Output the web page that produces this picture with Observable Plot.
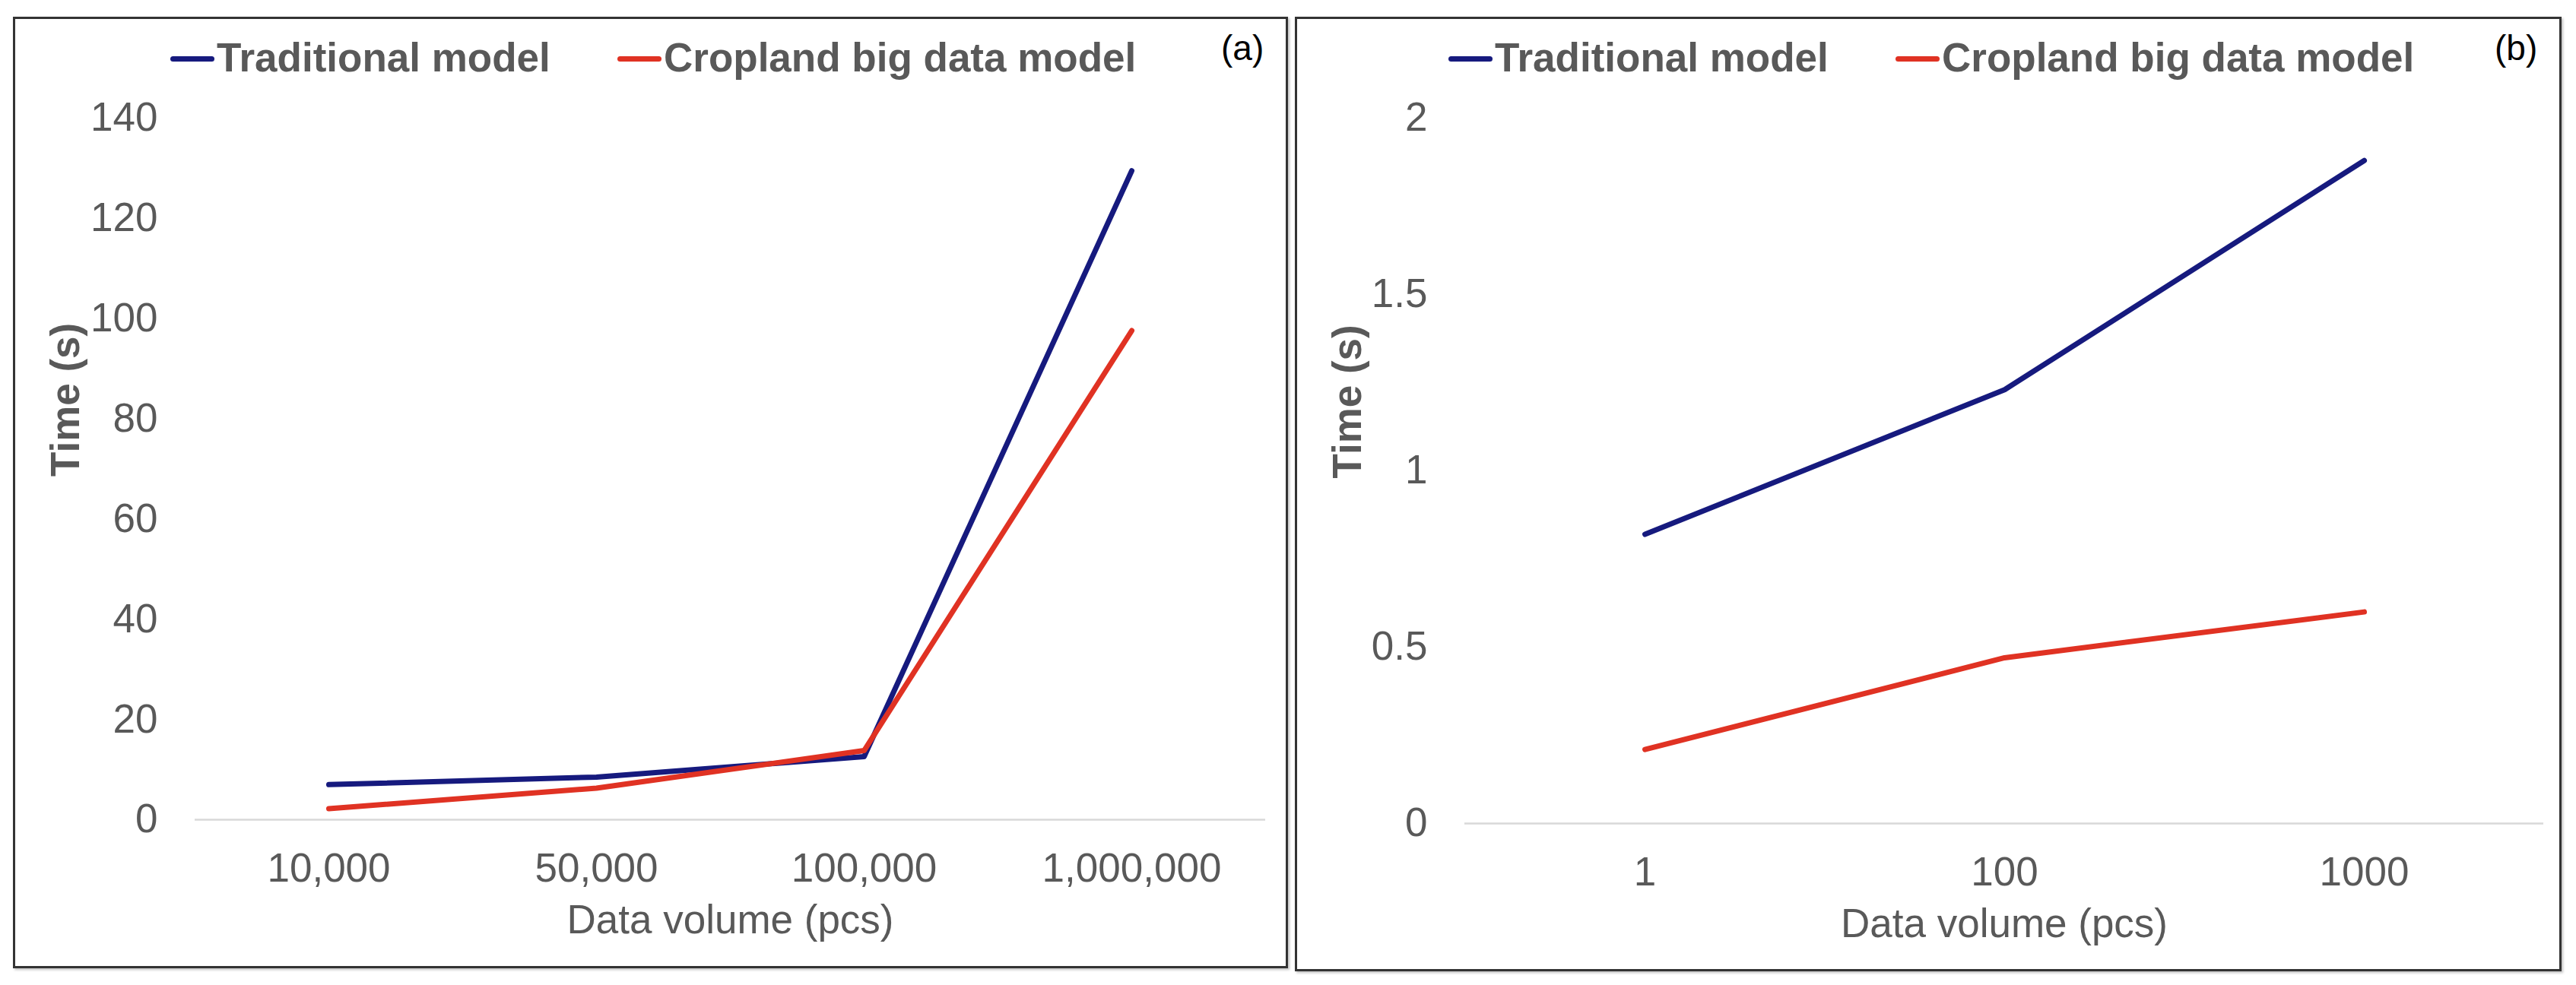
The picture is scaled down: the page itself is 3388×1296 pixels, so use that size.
<!DOCTYPE html>
<html><head><meta charset="utf-8">
<script src="https://cdn.jsdelivr.net/npm/d3@7"></script>
<script src="https://cdn.jsdelivr.net/npm/@observablehq/plot@0.6"></script>
<style>
html,body{margin:0;padding:0;width:3388px;height:1296px;overflow:hidden;background:#fff;}
.panel{position:absolute;border:3px solid #333;box-sizing:border-box;box-shadow:2px 2px 3px rgba(0,0,0,0.25);}
.plot{position:absolute;top:0;}
.leg{position:absolute;font:bold 53px "Liberation Sans",Arial,sans-serif;line-height:53px;color:#595959;white-space:nowrap;}
.sw{position:absolute;height:7px;width:58px;border-radius:4px;}
.tag{position:absolute;font:46px "Liberation Sans",Arial,sans-serif;line-height:46px;color:#000;white-space:nowrap;}
</style></head><body>
<div id="root"></div>
<script>
// ---- data ----
const seriesNames = ["Traditional model", "Cropland big data model"];
const seriesColors = ["#161a7e", "#e03223"];
const volumesA = ["10,000", "50,000", "100,000", "1,000,000"];
const traditionalA = [7.0, 8.5, 12.6, 129.5];
const croplandA = [2.2, 6.3, 13.8, 97.6];
const yTicksA = [0, 20, 40, 60, 80, 100, 120, 140];
const volumesB = ["1", "100", "1000"];
const traditionalB = [0.82, 1.23, 1.88];
const croplandB = [0.21, 0.47, 0.60];
const yTicksB = [0, 0.5, 1, 1.5, 2];
const panelTags = ["(a)", "(b)"];
const xTitle = "Data volume (pcs)";
const yTitle = "Time (s)";

const root = document.getElementById("root");

function makePlot(volumes, trad, crop, yTicks, cfg) {
  const rows = [];
  volumes.forEach((v, i) => rows.push({vol: v, time: trad[i], series: seriesNames[0]}));
  volumes.forEach((v, i) => rows.push({vol: v, time: crop[i], series: seriesNames[1]}));
  return Plot.plot({
    width: cfg.width, height: 1296,
    marginLeft: cfg.ml, marginRight: cfg.mr, marginTop: 155, marginBottom: cfg.mb,
    style: {fontFamily: '"Liberation Sans", Arial, sans-serif', fontSize: "53px", color: "#595959", background: "transparent", overflow: "visible"},
    x: {type: "point", domain: volumes, padding: 0.5, align: 0.5, tickSize: 0, tickPadding: 44, label: null},
    y: {domain: [0, yTicks[yTicks.length - 1]], ticks: yTicks, tickSize: 0, tickPadding: 49, tickFormat: d => String(d), label: null},
    color: {domain: seriesNames, range: seriesColors},
    marks: [
      Plot.ruleY([0], {stroke: "#d9d9d9", strokeWidth: 2.5}),
      Plot.line(rows, {x: "vol", y: "time", z: "series", stroke: "series", strokeWidth: 7, strokeLinecap: "round", strokeLinejoin: "round"}),
      Plot.text([xTitle], {frameAnchor: "bottom", lineAnchor: "middle", dy: 133, fontSize: 53, fill: "#595959"}),
      Plot.text([yTitle], {frameAnchor: "left", lineAnchor: "middle", dx: cfg.ytdx, dy: 10, rotate: -90, fontSize: 53, fontWeight: "bold", fill: "#595959"})
    ]
  });
}

const panels = [
  {left: 0, width: 1700, ml: 256, mr: 36, mb: 218, ytdx: -169,
   box: [17, 22, 1677, 1252], legX: 224, tagX: 1606,
   data: [volumesA, traditionalA, croplandA, yTicksA]},
  {left: 1700, width: 1688, ml: 226, mr: 43, mb: 213, ytdx: -153,
   box: [1703, 22, 1666, 1256], legX: 1905, tagX: 3281,
   data: [volumesB, traditionalB, croplandB, yTicksB]}
];

panels.forEach((p, k) => {
  const box = document.createElement("div");
  box.className = "panel";
  Object.assign(box.style, {left: p.box[0] + "px", top: p.box[1] + "px", width: p.box[2] + "px", height: p.box[3] + "px"});
  root.appendChild(box);

  const svg = makePlot(...p.data, p);
  svg.classList.add("plot");
  svg.style.position = "absolute";
  svg.style.left = p.left + "px";
  svg.style.top = "0px";
  root.appendChild(svg);

  seriesNames.forEach((name, i) => {
    const x0 = p.legX + i * 588;
    const sw = document.createElement("div");
    sw.className = "sw";
    Object.assign(sw.style, {left: x0 + "px", top: "73.5px", background: seriesColors[i]});
    root.appendChild(sw);
    const t = document.createElement("div");
    t.className = "leg";
    t.textContent = name;
    Object.assign(t.style, {left: (x0 + 61) + "px", top: "49px"});
    root.appendChild(t);
  });

  const tag = document.createElement("div");
  tag.className = "tag";
  tag.textContent = panelTags[k];
  Object.assign(tag.style, {left: p.tagX + "px", top: "40px"});
  root.appendChild(tag);
});
</script>
</body></html>
